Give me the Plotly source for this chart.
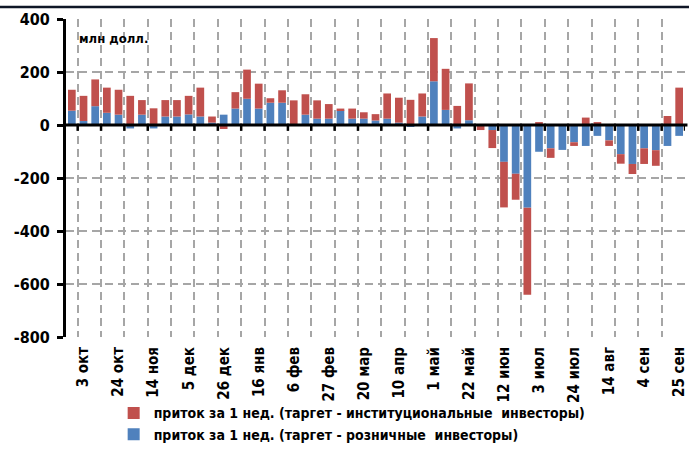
import plotly.graph_objects as go

weeks = ["26 сен", "3 окт", "10 окт", "17 окт", "24 окт", "31 окт", "7 ноя", "14 ноя",
         "21 ноя", "28 ноя", "5 дек", "12 дек", "19 дек", "26 дек", "2 янв", "9 янв",
         "16 янв", "23 янв", "30 янв", "6 фев", "13 фев", "20 фев", "27 фев", "6 мар",
         "13 мар", "20 мар", "27 мар", "3 апр", "10 апр", "17 апр", "24 апр", "1 май",
         "8 май", "15 май", "22 май", "29 май", "5 июн", "12 июн", "19 июн", "26 июн",
         "3 июл", "10 июл", "17 июл", "24 июл", "31 июл", "7 авг", "14 авг", "21 авг",
         "28 авг", "4 сен", "11 сен", "18 сен", "25 сен"]

retail = [54, 15, 71, 46, 39, -13, 39, -13, 32, 32, 40, 32, 9, 39, 62, 99, 62, 84, 84, 2,
          39, 24, 24, 55, 24, 24, 17, 24, 9, -5, 32, 165, 57, -13, 18, 0, -19, -139, -184,
          -312, -101, -88, -94, -65, -79, -41, -58, -110, -147, -88, -95, -79, -41]

institutional = [79, 95, 101, 95, 94, 110, 55, 63, 62, 62, 70, 109, 23, -15, 62, 110, 94,
                 17, 47, 91, 77, 69, 55, 7, 38, 24, 24, 95, 94, 95, 87, 163, 155, 72, 139,
                 -19, -68, -172, -98, -329, 11, -36, 0, -14, 28, 11, -21, -36, -38, -59,
                 -59, 34, 141]

tick_labels = ["3 окт", "24 окт", "14 ноя", "5 дек", "26 дек", "16 янв", "6 фев", "27 фев",
               "20 мар", "10 апр", "1 май", "22 май", "12 июн", "3 июл", "24 июл", "14 авг",
               "4 сен", "25 сен"]

y_ticks = [400, 200, 0, -200, -400, -600, -800]

name_inst = "приток за 1 нед. (таргет - институциональные  инвесторы)"
name_retail = "приток за 1 нед. (таргет - розничные  инвесторы)"

FONT = "'Liberation Sans Narrow', 'DejaVu Sans Condensed', 'Arial Narrow', 'Liberation Sans', sans-serif"
RED = "#c0504d"
BLUE = "#4f81bd"
GRID = "#a6a6a6"

xs = list(range(len(weeks)))
tick_pos = [weeks.index(t) for t in tick_labels]

fig = go.Figure()
fig.add_trace(go.Bar(x=xs, y=retail, name=f"<b>{name_retail}</b>", marker_color=BLUE,
                     marker_line_width=0, legendrank=2, hovertext=weeks))
fig.add_trace(go.Bar(x=xs, y=institutional, name=f"<b>{name_inst}</b>", marker_color=RED,
                     marker_line_width=0, legendrank=1, hovertext=weeks))

shapes = []
# tick marks on zero line at every second category boundary
for k in range(0, len(weeks) + 1, 2):
    b = k + 0.5
    if b > len(weeks) - 0.5:
        break
    shapes.append(dict(type="line", xref="x", yref="y", x0=b, x1=b, y0=0, y1=-22,
                       line=dict(color="black", width=2.5), layer="above"))
# zero line
shapes.append(dict(type="line", xref="paper", yref="y", x0=0, x1=1.004, y0=0, y1=0,
                   line=dict(color="black", width=3), layer="above"))
# header separator rule of the source page (top of the picture)
shapes.append(dict(type="line", xref="paper", yref="paper", x0=-0.12, x1=1.02,
                   y0=1.038, y1=1.038, line=dict(color="#0f1626", width=2.5),
                   layer="above"))

fig.update_layout(
    width=689, height=459,
    margin=dict(l=66, r=4, t=19, b=122, autoexpand=False),
    paper_bgcolor="white", plot_bgcolor="white",
    barmode="relative", bargap=0.34,
    font=dict(family=FONT, color="black"),
    showlegend=True,
    legend=dict(x=0.077, y=-0.19, xanchor="left", yanchor="top", orientation="v",
                font=dict(size=14, family=FONT, color="black"),
                itemwidth=30, tracegroupgap=0, bgcolor="rgba(0,0,0,0)"),
    shapes=shapes,
    annotations=[
        dict(text="<b>млн долл.</b>", xref="paper", yref="paper",
             x=0.018, y=0.94, xanchor="left", yanchor="middle",
             showarrow=False, font=dict(size=13, family=FONT, color="black")),
    ],
)

fig.update_xaxes(
    range=[-0.5, len(weeks) - 0.5], automargin=False,
    tickmode="array", tickvals=tick_pos, ticktext=[f"<b>{t}</b>" for t in tick_labels],
    tickangle=-90, tickfont=dict(size=15, family=FONT, color="black"),
    ticks="", showline=False, showgrid=False, zeroline=False,
    minor=dict(tick0=0.5, dtick=2, showgrid=True, gridcolor=GRID, gridwidth=2,
               griddash="8px,5px", ticks=""),
    ticklabelstandoff=6,
)
fig.update_yaxes(
    range=[-800, 400], automargin=False,
    tickmode="array", tickvals=y_ticks, ticktext=[f"<b>{v}</b>" for v in y_ticks],
    tickfont=dict(size=16, family=FONT, color="black"),
    showline=True, linecolor="black", linewidth=3,
    ticks="outside", ticklen=6, tickwidth=2.5, tickcolor="black",
    showgrid=True, gridcolor=GRID, gridwidth=2, griddash="8px,5px",
    zeroline=False, ticklabelstandoff=4,
)

fig.write_html("out.html", config={"displayModeBar": False},
               post_script="document.body.style.margin='0px';document.body.style.padding='0px';")
